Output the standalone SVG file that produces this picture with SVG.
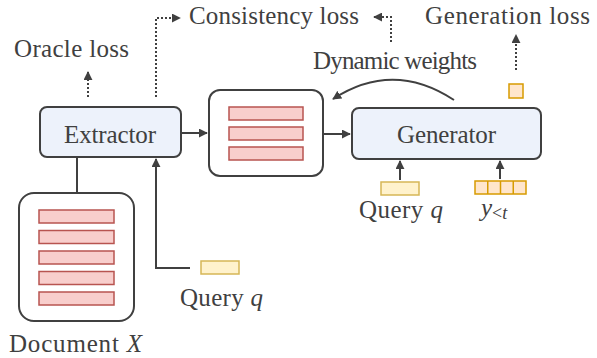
<svg xmlns="http://www.w3.org/2000/svg" width="597" height="358" viewBox="0 0 597 358">
<defs>
<marker id="ah" viewBox="0 0 10 10" refX="9" refY="5" markerWidth="4.5" markerHeight="4.5" orient="auto" markerUnits="strokeWidth">
<path d="M0,0 L10,5 L0,10 z" fill="#404040"/>
</marker>
<style>
.t{font-family:"Liberation Serif","Times New Roman",serif;font-size:25px;fill:#404040}
.box{fill:#edf2fb;stroke:#404040;stroke-width:2}
.wbox{fill:#ffffff;stroke:#404040;stroke-width:2}
.red{fill:#f8cecc;stroke:#b85450;stroke-width:1.5}
.yel{fill:#fff2cc;stroke:#d6b656;stroke-width:1.5}
.org{fill:#ffe6cc;stroke:#d79b00;stroke-width:1.5}
.ln{fill:none;stroke:#404040;stroke-width:2}
.dot{fill:none;stroke:#404040;stroke-width:2;stroke-dasharray:2 2}
</style>
</defs>
<rect width="597" height="358" fill="#ffffff"/>

<g id="connectors">
<line class="ln" x1="181" y1="133" x2="207" y2="133" marker-end="url(#ah)"/>
<line class="ln" x1="323" y1="134" x2="350" y2="134" marker-end="url(#ah)"/>
<line class="ln" x1="77" y1="157" x2="77" y2="193"/>
<polyline class="ln" points="190,268 156,268 156,159" marker-end="url(#ah)"/>
<line class="ln" x1="400" y1="180" x2="400" y2="161" marker-end="url(#ah)"/>
<line class="ln" x1="500" y1="179" x2="500" y2="161" marker-end="url(#ah)"/>
<path class="ln" d="M454,100 Q393,60 333,99" marker-end="url(#ah)"/>
<line class="dot" x1="88" y1="97" x2="88" y2="72" marker-end="url(#ah)"/>
<polyline class="dot" points="156,97 156,18 180,18" marker-end="url(#ah)"/>
<polyline class="dot" points="391,42 391,17 374,17" marker-end="url(#ah)"/>
<line class="dot" x1="516" y1="70" x2="516" y2="35" marker-end="url(#ah)"/>
</g>

<g id="extractor">
<rect class="box" x="40" y="107" width="141" height="50" rx="7"/>
<text class="t" x="64" y="143" textLength="92">Extractor</text>
</g>

<g id="selected">
<rect class="wbox" x="209" y="90" width="114" height="86" rx="11"/>
<rect class="red" x="229" y="107" width="74" height="13"/>
<rect class="red" x="229" y="127" width="74" height="13"/>
<rect class="red" x="229" y="147" width="74" height="13"/>
</g>

<g id="generator">
<rect class="box" x="352" y="108" width="189" height="51" rx="7"/>
<text class="t" x="397" y="143" textLength="99">Generator</text>
</g>

<g id="document">
<rect class="wbox" x="19" y="193" width="115" height="128" rx="15"/>
<rect class="red" x="39" y="210" width="75" height="13"/>
<rect class="red" x="39" y="230.5" width="75" height="13"/>
<rect class="red" x="39" y="251" width="75" height="13"/>
<rect class="red" x="39" y="271.5" width="75" height="13"/>
<rect class="red" x="39" y="292" width="75" height="13"/>
<text class="t" x="9" y="352" textLength="133">Document <tspan font-style="italic">X</tspan></text>
</g>

<g id="query-extractor">
<rect class="yel" x="201" y="261" width="38" height="13"/>
<text class="t" x="180" y="306" textLength="83">Query <tspan font-style="italic">q</tspan></text>
</g>

<g id="query-generator">
<rect class="yel" x="381" y="182" width="38" height="13"/>
<text class="t" x="359" y="218" textLength="84">Query <tspan font-style="italic">q</tspan></text>
</g>

<g id="prefix">
<rect class="org" x="475" y="181" width="51" height="13"/>
<line x1="487.75" y1="181" x2="487.75" y2="194" stroke="#d79b00" stroke-width="1.5"/>
<line x1="500.5" y1="181" x2="500.5" y2="194" stroke="#d79b00" stroke-width="1.5"/>
<line x1="513.25" y1="181" x2="513.25" y2="194" stroke="#d79b00" stroke-width="1.5"/>
<text class="t" x="481" y="216" font-size="27" font-style="italic">y<tspan font-size="18" dy="3" font-style="normal">&lt;</tspan><tspan font-size="18" font-style="italic">t</tspan></text>
</g>

<g id="output-token">
<rect class="org" x="509" y="84" width="14" height="14"/>
</g>

<g id="labels">
<text class="t" x="14" y="57" textLength="115">Oracle loss</text>
<text class="t" x="189" y="24" textLength="170">Consistency loss</text>
<text class="t" x="313" y="69" textLength="164">Dynamic weights</text>
<text class="t" x="425" y="24" textLength="165">Generation loss</text>
</g>
</svg>
